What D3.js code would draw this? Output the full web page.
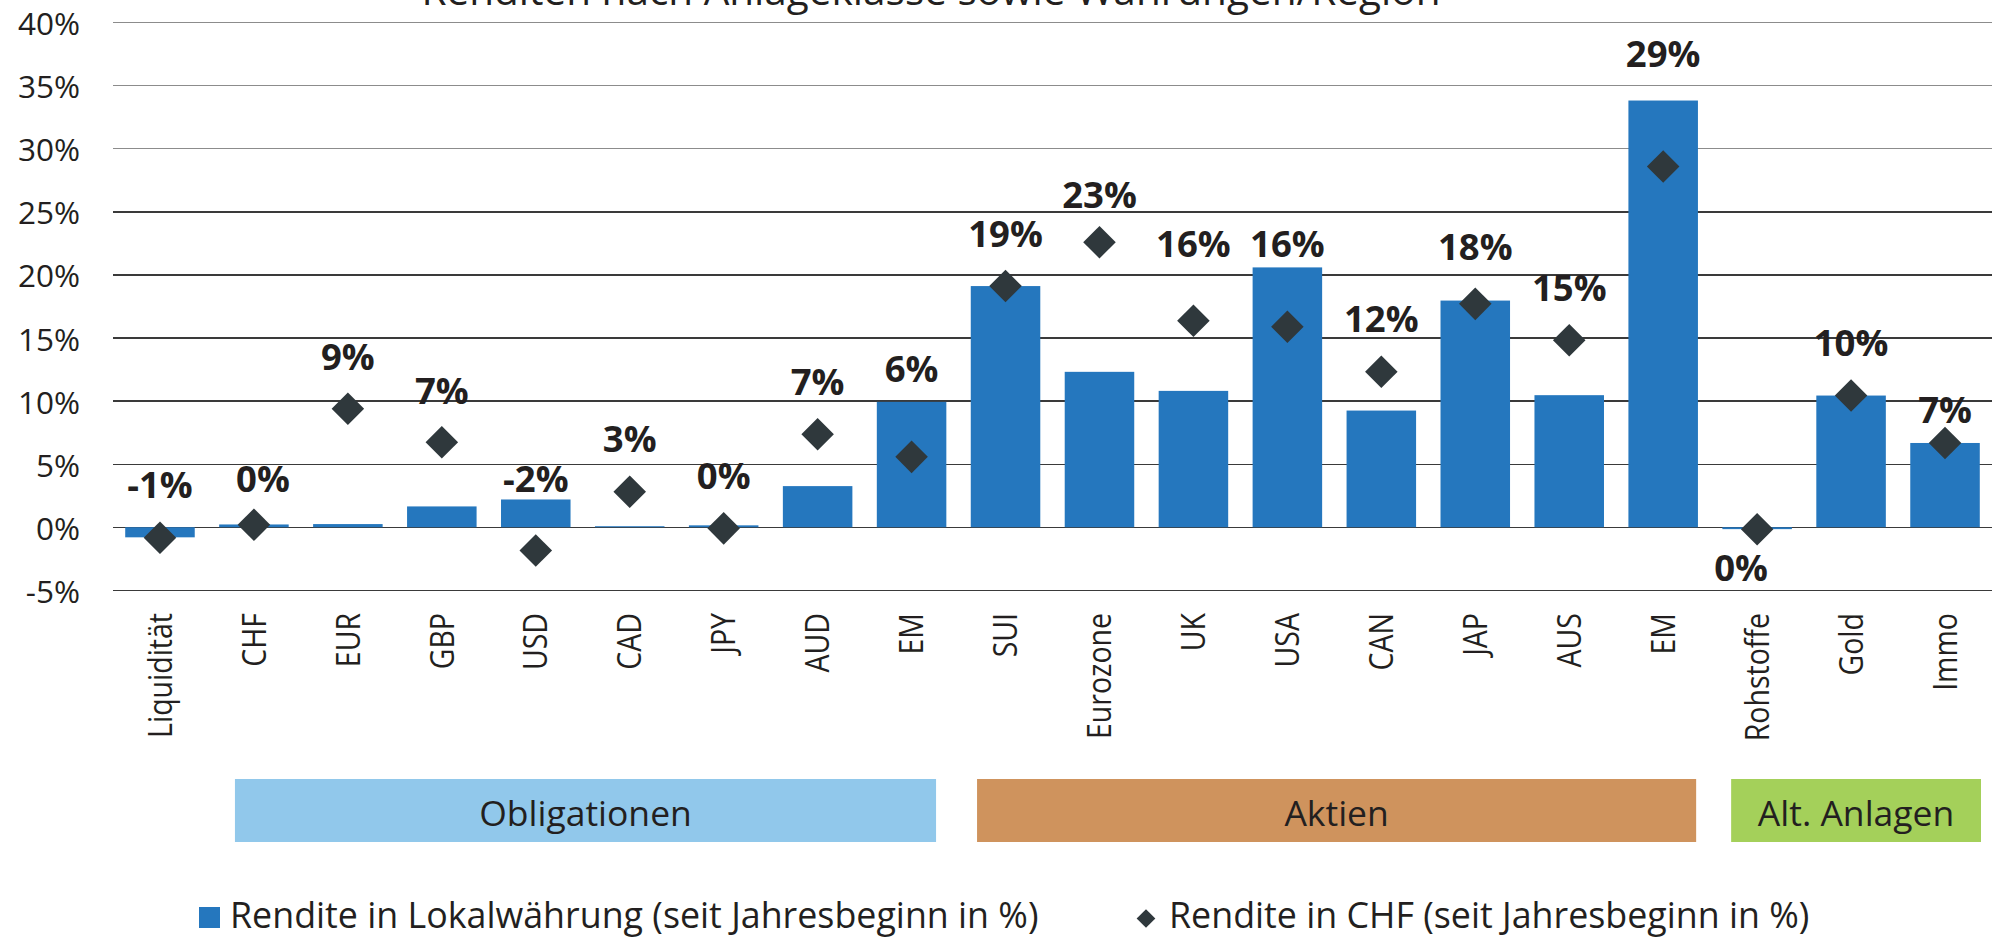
<!DOCTYPE html>
<html>
<head>
<meta charset="utf-8">
<script src="https://cdn.jsdelivr.net/npm/d3@7"></script>
<style>
  html, body { margin: 0; padding: 0; background: #fff; }
  svg { display: block; }
  text { font-family: "Open Sans", "Noto Sans", sans-serif; fill: #231f20; }
</style>
</head>
<body>
<svg id="chart" width="1997" height="938"></svg>
<script>
// ---------- DATA ----------
const title = "Renditen nach Anlageklasse sowie Währungen/Region";
const categories = ["Liquidität","CHF","EUR","GBP","USD","CAD","JPY","AUD","EM",
  "SUI","Eurozone","UK","USA","CAN","JAP","AUS","EM","Rohstoffe","Gold","Immo"];
const localReturns = [-0.8, 0.22, 0.25, 1.65, 2.2, 0.08, 0.15, 3.26, 9.94,
  19.12, 12.32, 10.81, 20.6, 9.25, 17.97, 10.47, 33.83, -0.15, 10.44, 6.68];
const chfReturns = [-0.84, 0.2, 9.4, 6.74, -1.84, 2.82, -0.09, 7.37, 5.58,
  19.12, 22.6, 16.37, 15.9, 12.32, 17.71, 14.83, 28.6, -0.16, 10.44, 6.68];
const chfLabels = ["-1%","0%","9%","7%","-2%","3%","0%","7%","6%",
  "19%","23%","16%","16%","12%","18%","15%","29%","0%","10%","7%"];
const yTicks = [-5, 0, 5, 10, 15, 20, 25, 30, 35, 40];
const groupNames = ["Obligationen", "Aktien", "Alt. Anlagen"];
const groupFirst = [1, 9, 17];
const groupLast = [8, 16, 19];
const legendNames = ["Rendite in Lokalwährung (seit Jahresbeginn in %)",
  "Rendite in CHF (seit Jahresbeginn in %)"];

// ---------- LAYOUT (positions / styles) ----------
const labelAt = [2.3, 2.8, 12.5, 9.8, 2.8, 5.95, 3.0, 10.5, 11.5,
  22.2, 25.3, 21.4, 21.4, 15.5, 21.2, 17.9, 36.5, -4.3, 13.6, 8.3]; // label baselines in axis units
const labelShift = {1: 9, 17: -16};
const groupInset = [[28, 22.5], [18.5, 14], [21, 11]];
const groupColors = ["#91c8eb", "#cf935d", "#a4d05a"];
const barColor = "#2577be";
const diamondColor = "#2f383c";

const svg = d3.select("#chart");
const plot = {left: 113, right: 1992, top: 22.7, bottom: 590.3};

const x = d3.scaleBand()
  .domain(d3.range(categories.length))
  .range([plot.left, plot.right])
  .paddingInner(0.26)
  .paddingOuter(0.13);
const y = d3.scaleLinear().domain([-5, 40]).range([plot.bottom, plot.top]);

const bandStart = i => x(i) - x.step() * 0.13;
const bandEnd = i => x(i) + x.bandwidth() + x.step() * 0.13;

// title (partially cut off at the top, as in the source)
svg.append("text")
  .attr("x", 931).attr("y", 5)
  .attr("text-anchor", "middle")
  .style("font-size", "40.5px")
  .text(title);

// gridlines
svg.append("g").selectAll("line").data(yTicks).join("line")
  .attr("x1", plot.left).attr("x2", plot.right)
  .attr("y1", d => y(d)).attr("y2", d => y(d))
  .attr("stroke", d => d >= 30 ? "#8c8c8c" : "#3a3a3a")
  .attr("stroke-width", 1.3)
  .attr("shape-rendering", "crispEdges");

// y axis labels
svg.append("g").selectAll("text").data(yTicks).join("text")
  .attr("x", 80).attr("y", d => y(d))
  .attr("text-anchor", "end")
  .attr("dominant-baseline", "central")
  .style("font-size", "31.5px")
  .text(d => d + "%");

// bars
svg.append("g").selectAll("rect").data(localReturns).join("rect")
  .attr("x", (d, i) => x(i))
  .attr("width", x.bandwidth())
  .attr("y", d => y(Math.max(0, d)))
  .attr("height", d => Math.max(1, Math.abs(y(d) - y(0))))
  .attr("fill", barColor);

// diamonds
const diamond = d3.symbol().type(d3.symbolSquare).size(530);
svg.append("g").selectAll("path").data(chfReturns).join("path")
  .attr("d", diamond)
  .attr("transform", (d, i) => `translate(${x(i) + x.bandwidth() / 2},${y(d)}) rotate(45)`)
  .attr("fill", diamondColor);

// value labels
svg.append("g").selectAll("text").data(chfLabels).join("text")
  .attr("x", (d, i) => x(i) + x.bandwidth() / 2 + (labelShift[i] || 0))
  .attr("y", (d, i) => y(labelAt[i]))
  .attr("text-anchor", "middle")
  .style("font-size", "36.5px")
  .style("font-weight", "700")
  .text(d => d);

// category labels (rotated)
svg.append("g").selectAll("text").data(categories).join("text")
  .attr("transform", (d, i) => `translate(${x(i) + x.bandwidth() / 2 + 11.7},613) rotate(-90) scale(1,1.14)`)
  .attr("text-anchor", "end")
  .style("font-size", "28.5px")
  .text(d => d);

// group boxes
const groups = svg.append("g").selectAll("g").data(groupNames).join("g");
const gx0 = i => bandStart(groupFirst[i]) + groupInset[i][0];
const gx1 = i => bandEnd(groupLast[i]) - groupInset[i][1];
groups.append("rect")
  .attr("x", (d, i) => gx0(i))
  .attr("width", (d, i) => gx1(i) - gx0(i))
  .attr("y", 779).attr("height", 63)
  .attr("fill", (d, i) => groupColors[i]);
groups.append("text")
  .attr("x", (d, i) => (gx0(i) + gx1(i)) / 2)
  .attr("y", 826)
  .attr("text-anchor", "middle")
  .style("font-size", "35.5px")
  .text(d => d);

// legend
const leg = svg.append("g");
leg.append("rect").attr("x", 199).attr("y", 907).attr("width", 21).attr("height", 21).attr("fill", barColor);
leg.append("text").attr("x", 230).attr("y", 927.5).style("font-size", "35.8px").text(legendNames[0]);
leg.append("path").attr("d", d3.symbol().type(d3.symbolSquare).size(175))
  .attr("transform", "translate(1146,918.5) rotate(45)").attr("fill", diamondColor);
leg.append("text").attr("x", 1169).attr("y", 927.5).style("font-size", "35.8px").text(legendNames[1]);
</script>
</body>
</html>
